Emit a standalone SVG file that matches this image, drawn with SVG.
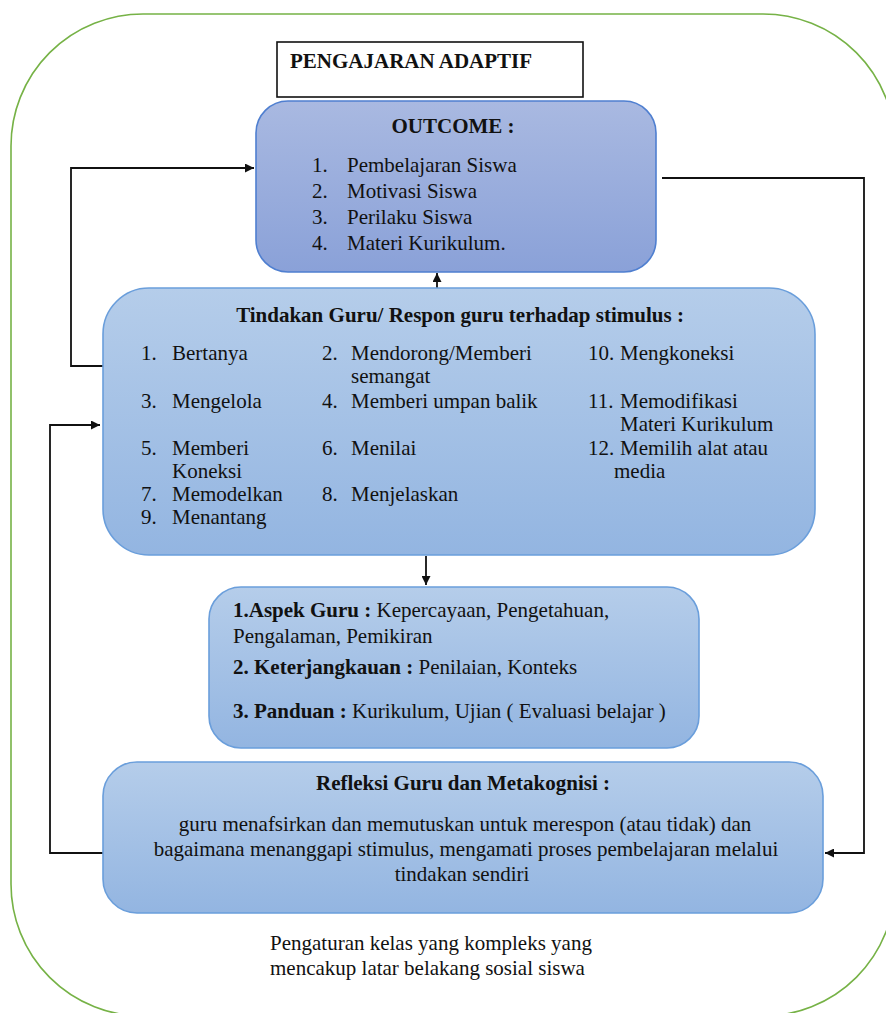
<svg xmlns="http://www.w3.org/2000/svg" width="886" height="1013" viewBox="0 0 886 1013">
<style>
text{font-family:"Liberation Serif",Tinos,"Times New Roman","DejaVu Serif",serif;font-size:21px;fill:#111}
.b{font-weight:bold}
.c{text-anchor:middle}
.con{fill:none;stroke:#111;stroke-width:1.8}
.box1{fill:url(#g1);stroke:#4f7fd0;stroke-width:1.6}
.box2{fill:url(#g2);stroke:#6a9edb;stroke-width:1.6}
</style>
<defs>
<linearGradient id="g1" x1="0" y1="0" x2="0" y2="1"><stop offset="0" stop-color="#a9b9e1"/><stop offset="1" stop-color="#8aa1d8"/></linearGradient>
<linearGradient id="g2" x1="0" y1="0" x2="0" y2="1"><stop offset="0" stop-color="#b5cdea"/><stop offset="1" stop-color="#93b5e1"/></linearGradient>
<marker id="ar" viewBox="0 0 10 10" refX="10" refY="5" markerWidth="5" markerHeight="5" orient="auto" markerUnits="strokeWidth"><path d="M0,0L10,5L0,10z" fill="#111"/></marker>
</defs>
<rect width="886" height="1013" fill="#fff"/>
<g id="frame"><rect x="11" y="14" width="884" height="1002" rx="132" ry="132" fill="none" stroke="#76b246" stroke-width="1.6"/></g>
<g id="connectors">
<path class="con" d="M103,366H71V168H254" marker-end="url(#ar)"/>
<path class="con" d="M437,288V273" marker-end="url(#ar)"/>
<path class="con" d="M662,178H864V853H825" marker-end="url(#ar)"/>
<path class="con" d="M104,853H50V425H100" marker-end="url(#ar)"/>
<path class="con" d="M426,556V585" marker-end="url(#ar)"/>
</g>
<g id="title">
<rect x="277" y="42" width="306" height="55" fill="#fff" stroke="#111" stroke-width="1.6"/>
<text class="b" x="290" y="68" font-family="Liberation Serif">PENGAJARAN ADAPTIF</text>
</g>
<g id="outcome">
<rect class="box1" x="256" y="101" width="400" height="171" rx="32"/>
<text class="b c" x="453" y="133">OUTCOME :</text>
<text x="312" y="172">1.</text><text x="347" y="172">Pembelajaran Siswa</text>
<text x="312" y="198">2.</text><text x="347" y="198">Motivasi Siswa</text>
<text x="312" y="224">3.</text><text x="347" y="224">Perilaku Siswa</text>
<text x="312" y="250">4.</text><text x="347" y="250">Materi Kurikulum.</text>
</g>
<g id="tindakan">
<rect class="box2" x="103" y="288" width="712" height="267" rx="46"/>
<text class="b c" x="460" y="322">Tindakan Guru/ Respon guru terhadap stimulus :</text>
<text x="141" y="360">1.</text><text x="172" y="360">Bertanya</text>
<text x="322" y="360">2.</text><text x="351" y="360">Mendorong/Memberi</text>
<text x="351" y="383">semangat</text>
<text x="588" y="360">10.</text><text x="620" y="360">Mengkoneksi</text>
<text x="141" y="408">3.</text><text x="172" y="408">Mengelola</text>
<text x="322" y="408">4.</text><text x="351" y="408">Memberi umpan balik</text>
<text x="588" y="408">11.</text><text x="620" y="408">Memodifikasi</text>
<text x="620" y="431">Materi Kurikulum</text>
<text x="141" y="455">5.</text><text x="172" y="455">Memberi</text>
<text x="172" y="478">Koneksi</text>
<text x="322" y="455">6.</text><text x="351" y="455">Menilai</text>
<text x="588" y="455">12.</text><text x="620" y="455">Memilih alat atau</text>
<text x="614" y="478">media</text>
<text x="141" y="501">7.</text><text x="172" y="501">Memodelkan</text>
<text x="322" y="501">8.</text><text x="351" y="501">Menjelaskan</text>
<text x="141" y="524">9.</text><text x="172" y="524">Menantang</text>
</g>
<g id="aspek">
<rect class="box2" x="209" y="587" width="490" height="161" rx="32"/>
<text x="233" y="617"><tspan class="b">1.Aspek Guru :</tspan> Kepercayaan, Pengetahuan,</text>
<text x="233" y="643">Pengalaman, Pemikiran</text>
<text x="233" y="674"><tspan class="b">2. Keterjangkauan :</tspan> Penilaian, Konteks</text>
<text x="233" y="718"><tspan class="b">3. Panduan :</tspan> Kurikulum, Ujian ( Evaluasi belajar )</text>
</g>
<g id="refleksi">
<rect class="box2" x="103" y="762" width="720" height="151" rx="34"/>
<text class="b c" x="463" y="790">Refleksi Guru dan Metakognisi :</text>
<text class="c" x="465" y="831">guru menafsirkan dan memutuskan untuk merespon (atau tidak) dan</text>
<text class="c" x="466" y="856">bagaimana menanggapi stimulus, mengamati proses pembelajaran melalui</text>
<text class="c" x="462" y="881">tindakan sendiri</text>
</g>
<g id="setting">
<text x="270" y="950">Pengaturan kelas yang kompleks yang</text>
<text x="270" y="975">mencakup latar belakang sosial siswa</text>
</g>
</svg>
